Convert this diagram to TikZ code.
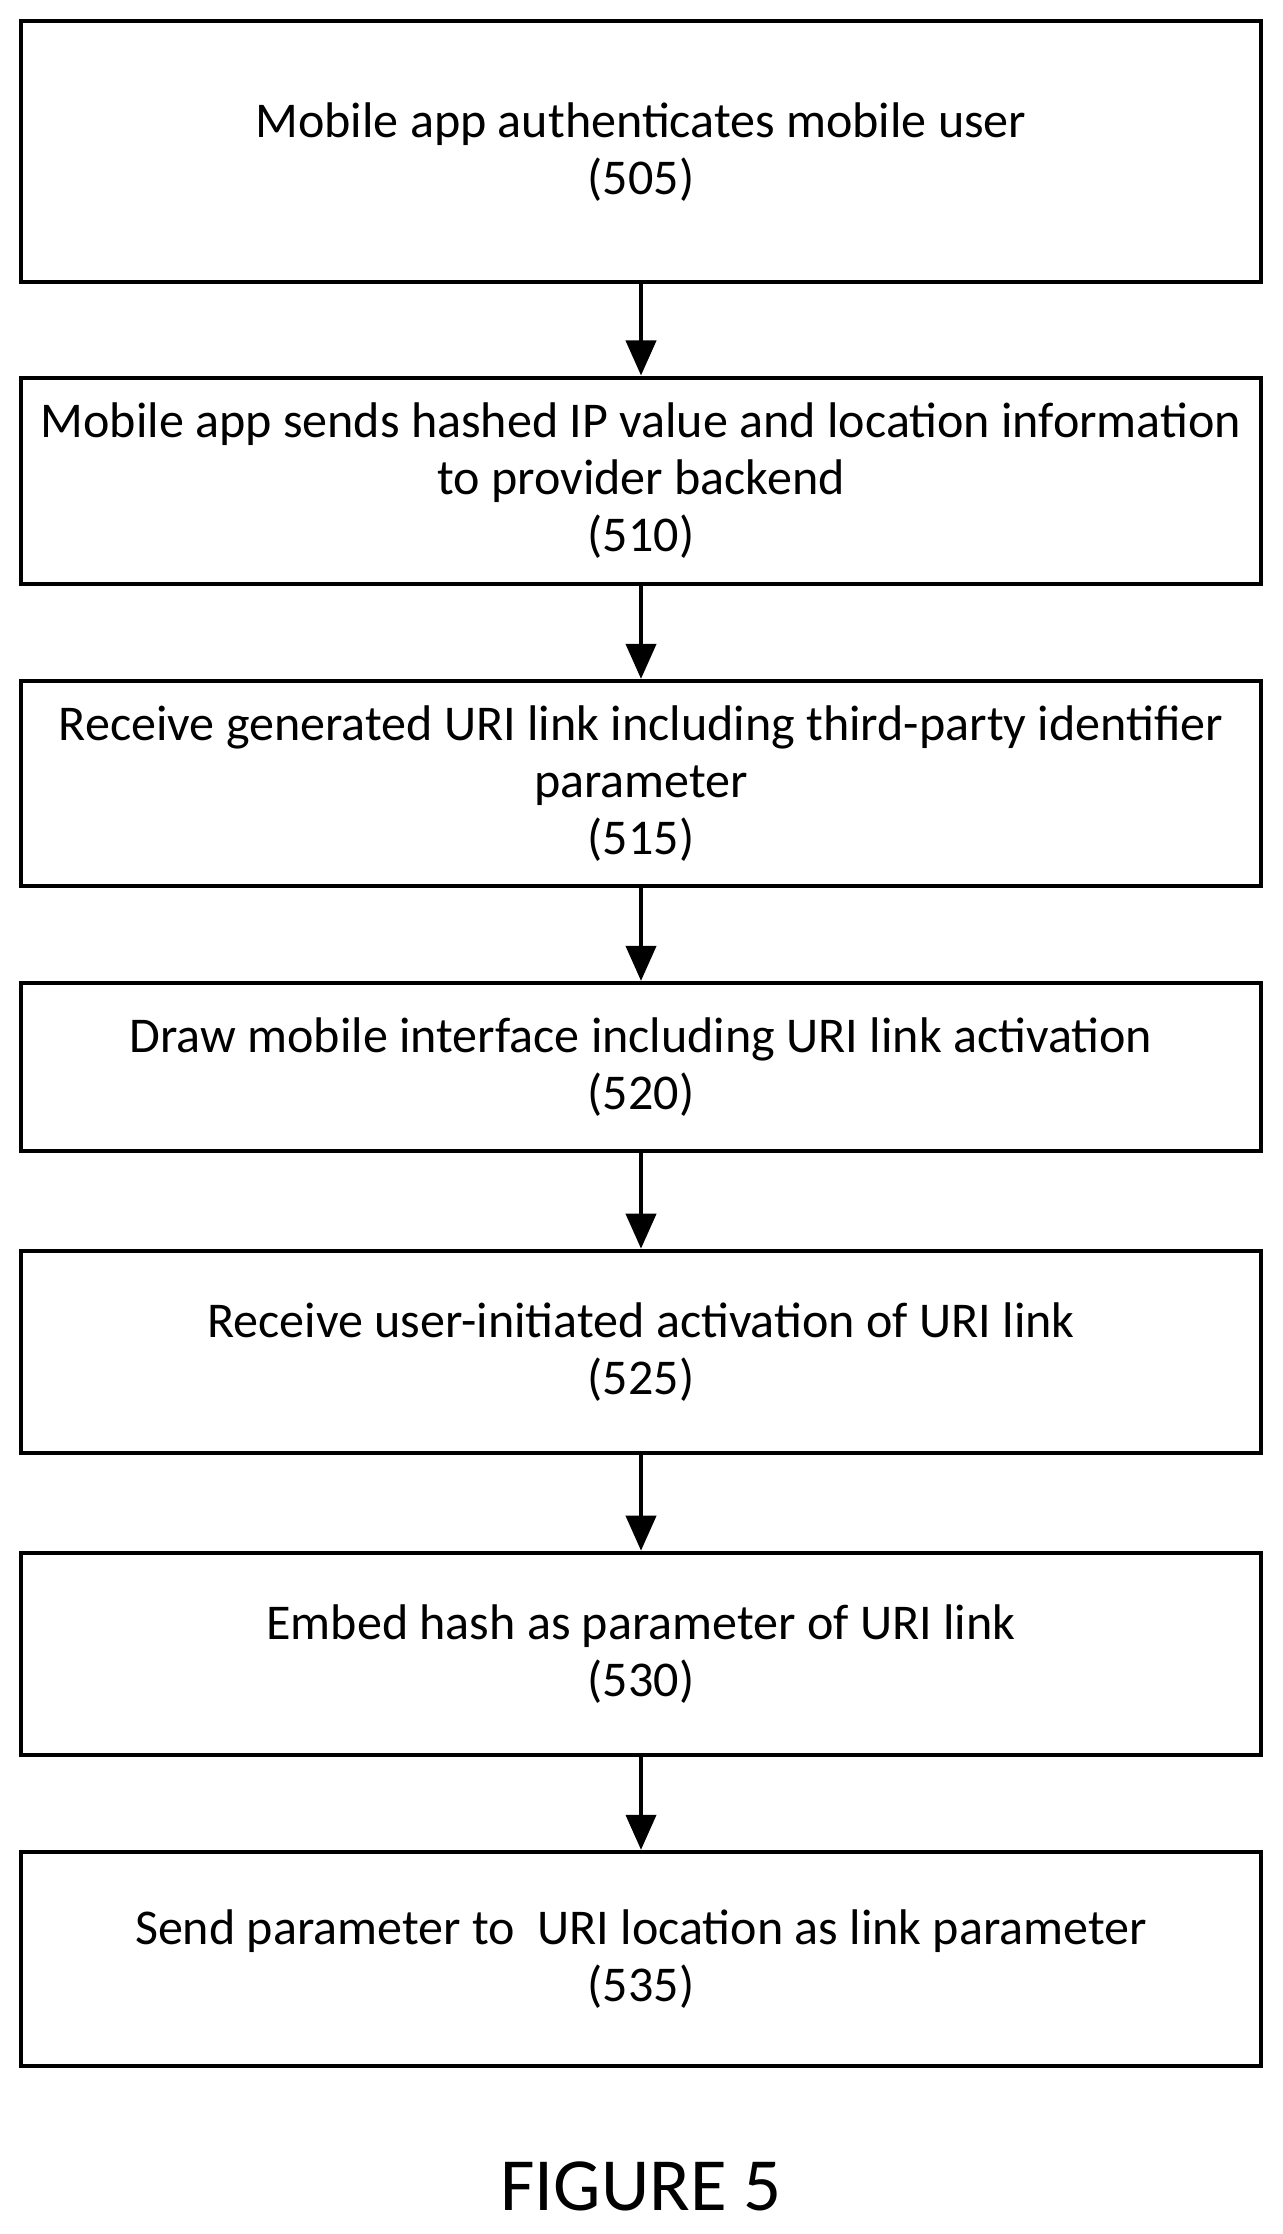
\documentclass[tikz,border=0pt]{standalone}
\usepackage{fontspec}
\setmainfont{Carlito}
\usetikzlibrary{arrows.meta}
\begin{document}
\begin{tikzpicture}[
    stepbox/.style={draw, line width=0.8pt, minimum width=8.7cm, align=center,
        font=\fontsize{10pt}{11.4pt}\selectfont},
    flow/.style={-{Triangle[length=7pt,width=6pt]}, line width=0.8pt}]

    % Frame
    \useasboundingbox (0,0) rectangle (9,-15.683);

    % Steps
    \node[stepbox, minimum height=1.83cm] (s505) at (4.5,-1.065) {Mobile app authenticates mobile user\\(505)};
    \node[stepbox, minimum height=1.45cm] (s510) at (4.5,-3.375) {Mobile app sends hashed IP value and location information\\to provider backend\\(510)};
    \node[stepbox, minimum height=1.44cm] (s515) at (4.5,-5.5) {Receive generated URI link including third-party identifier\\parameter\\(515)};
    \node[stepbox, minimum height=1.18cm] (s520) at (4.5,-7.49) {Draw mobile interface including URI link activation\\(520)};
    \node[stepbox, minimum height=1.42cm] (s525) at (4.5,-9.49) {Receive user-initiated activation of URI link\\(525)};
    \node[stepbox, minimum height=1.42cm] (s530) at (4.5,-11.61) {Embed hash as parameter of URI link\\(530)};
    \node[stepbox, minimum height=1.5cm] (s535) at (4.5,-13.75) {Send parameter to\ \ URI location as link parameter\\(535)};

    % Arrows
    \foreach \a/\b in {s505/s510, s510/s515, s515/s520, s520/s525, s525/s530, s530/s535}
        \draw[flow] (\a) -- (\b);

    % Caption
    \node[font=\fontsize{15pt}{18pt}\selectfont] (fig) at (4.5,-15.35) {FIGURE 5};
\end{tikzpicture}
\end{document}
